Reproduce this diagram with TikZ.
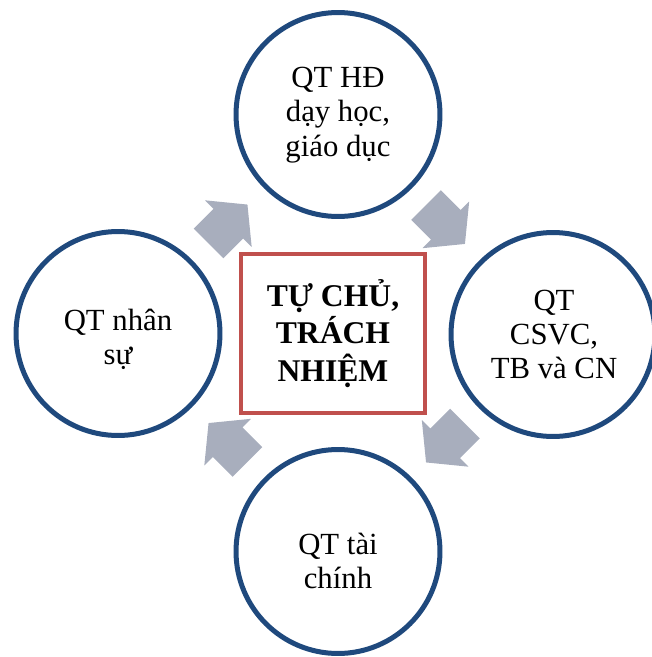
\documentclass[tikz,border=0pt]{standalone}
\usepackage{fontspec}
\setmainfont{Liberation Serif}
\usetikzlibrary{calc}

\definecolor{ringblue}{RGB}{31,73,125}
\definecolor{boxred}{RGB}{192,80,77}
\definecolor{arrowgray}{RGB}{168,174,189}

\tikzset{
  ring/.style={circle, draw=ringblue, line width=0.1cm, minimum size=4.08cm},
  ringtext/.style={align=center, font=\fontsize{17.5}{19.5}\selectfont},
  core/.style={rectangle, draw=boxred, line width=0.08cm, minimum width=3.68cm,
    minimum height=3.18cm, align=center, font=\bfseries\fontsize{18}{21.5}\selectfont},
  cyclearrow/.pic={
    \fill[arrowgray] (-27.5,-21) -- (0.5,-21) -- (0.5,-33) -- (27.5,0)
      -- (0.5,33) -- (0.5,21) -- (-27.5,21) -- cycle;
  }
}

\begin{document}
\begin{tikzpicture}[x=0.02cm, y=-0.02cm]
    \useasboundingbox (0,0) rectangle (652,657);

    % vòng tròn
    \node[ring] (T) at (338, 114.5) {};
    \node[ring] (R) at (553, 334.5) {};
    \node[ring] (B) at (338, 551.5) {};
    \node[ring] (L) at (118, 333.5) {};

    % ô giữa
    \node[core] (C) at (333, 333.5) {TỰ CHỦ,\\TRÁCH\\NHIỆM};

    % mũi tên
    \pic[rotate=45] at ($(L)!0.5!(T)$) {cyclearrow};
    \pic[rotate=-45] at ($(T)!0.5!(R)$) {cyclearrow};
    \pic[rotate=-135] at ($(R)!0.5!(B)$) {cyclearrow};
    \pic[rotate=135] at ($(B)!0.5!(L)$) {cyclearrow};

    % chữ
    \node[ringtext] (Ttext) at (338, 115) {QT HĐ\\dạy học,\\giáo dục};
    \node[ringtext] (Rtext) at (554, 334.5) {QT\\CSVC,\\TB và CN};
    \node[ringtext] (Btext) at (338, 561) {QT tài\\chính};
    \node[ringtext] (Ltext) at (118, 339.5) {QT nhân\\sự};

\end{tikzpicture}
\end{document}
